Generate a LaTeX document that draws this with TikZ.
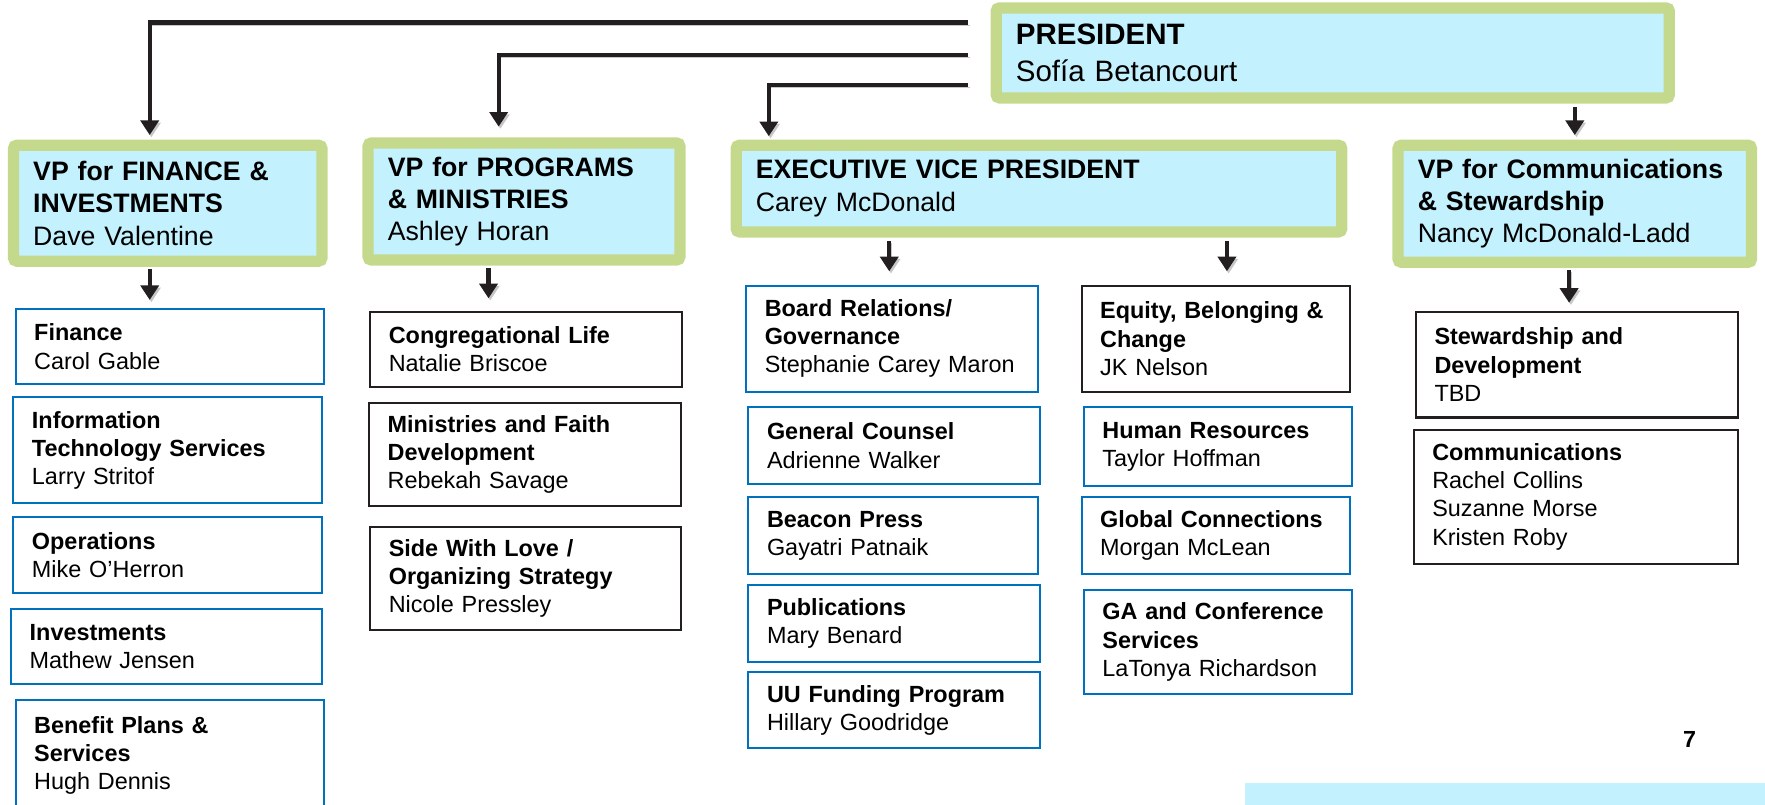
\documentclass[tikz,border=0pt]{standalone}
\usepackage{fontspec}
\setmainfont{Liberation Sans}
\usetikzlibrary{arrows.meta}
\definecolor{leafgreen}{HTML}{C5D98D}
\definecolor{paleblue}{HTML}{C3F1FD}
\definecolor{lineblue}{HTML}{0070C0}
\definecolor{inkblack}{HTML}{231F20}

\begin{document}
\begin{tikzpicture}[x=1pt,y=-1pt,
  leadbox/.style={draw=leafgreen, fill=paleblue, line width=10pt, rounded corners=3pt, anchor=north west, align=left, inner xsep=17.5pt, inner ysep=0pt, font=\fontsize{23.7}{28.7}\selectfont},
  deptbox/.style={draw=lineblue, line width=1.8pt, anchor=north west, align=left, inner xsep=16.5pt, inner ysep=0pt, font=\fontsize{20.8}{25}\selectfont},
  deptboxk/.style={deptbox, draw=inkblack},
  conn/.style={draw=inkblack, line width=3.8pt, -{Triangle[width=16pt,length=13pt]},
    preaction={draw=black!22, transform canvas={shift={(1.5pt,-2pt)}}}}]
\useasboundingbox (0,0) rectangle (1568,715);
\clip (0,0) rectangle (1568,715);
% Draw president and vice presidents
\node[leadbox, text width=563pt, minimum height=80pt, font=\fontsize{26.2}{33}\selectfont] (pres) at (880,2) {\textbf{PRESIDENT}\\Sofía Betancourt};
\node[leadbox, text width=239pt, minimum height=103pt] (vpfin) at (7,124) {\textbf{VP for FINANCE \&}\\\textbf{INVESTMENTS}\\Dave Valentine};
\node[leadbox, text width=242pt, minimum height=104pt] (vpprog) at (322,122) {\textbf{VP for PROGRAMS}\\\textbf{\& MINISTRIES}\\Ashley Horan};
\node[leadbox, text width=503pt, minimum height=77pt] (evp) at (649,124) {\textbf{EXECUTIVE VICE PRESIDENT}\\Carey McDonald};
\node[leadbox, text width=279pt, minimum height=104pt] (vpcomm) at (1237,124) {\textbf{VP~for~Communications}\\\textbf{\& Stewardship}\\Nancy McDonald-Ladd};
% Draw finance offices
\node[deptbox, text width=241pt, minimum height=66pt] (fin) at (13,274) {\textbf{Finance}\\Carol Gable};
\node[deptbox, text width=241pt, minimum height=94pt] (its) at (11,352) {\textbf{Information}\\\textbf{Technology Services}\\Larry Stritof};
\node[deptbox, text width=241pt, minimum height=68pt] (ops) at (11,458) {\textbf{Operations}\\Mike O’Herron};
\node[deptbox, text width=243pt, minimum height=67pt] (inv) at (9,540) {\textbf{Investments}\\Mathew Jensen};
\node[deptbox, text width=241pt, minimum height=98pt] (ben) at (13,621) {\textbf{Benefit Plans \&}\\\textbf{Services}\\Hugh Dennis};
% Draw program offices
\node[deptboxk, text width=244pt, minimum height=67pt] (cong) at (328,276) {\textbf{Congregational Life}\\Natalie Briscoe};
\node[deptboxk, text width=244pt, minimum height=92pt] (mfd) at (327,357) {\textbf{Ministries and Faith}\\\textbf{Development}\\Rebekah Savage};
\node[deptboxk, text width=243pt, minimum height=92pt] (swl) at (328,467) {\textbf{Side With Love /}\\\textbf{Organizing Strategy}\\Nicole Pressley};
% Draw executive offices, first column
\node[deptbox, text width=226pt, minimum height=94pt] (board) at (662,253) {\textbf{Board Relations/}\\\textbf{Governance}\\Stephanie~Carey~Maron};
\node[deptbox, text width=226pt, minimum height=68pt] (gc) at (664,361) {\textbf{General Counsel}\\Adrienne Walker};
\node[deptbox, text width=224pt, minimum height=68pt] (beacon) at (664,441) {\textbf{Beacon Press}\\Gayatri Patnaik};
\node[deptbox, text width=226pt, minimum height=68pt] (pubs) at (664,519) {\textbf{Publications}\\Mary Benard};
\node[deptbox, text width=226pt, minimum height=68pt] (uuf) at (664,596) {\textbf{UU Funding Program}\\Hillary Goodridge};
% Draw executive offices, second column
\node[deptboxk, text width=205pt, minimum height=94pt] (equity) at (960,253) {\textbf{Equity,~Belonging~\&}\\\textbf{Change}\\JK Nelson};
\node[deptbox, text width=205pt, minimum height=70pt] (hr) at (962,361) {\textbf{Human Resources}\\Taylor Hoffman};
\node[deptbox, text width=205pt, minimum height=68pt] (global) at (960,441) {\textbf{Global~Connections}\\Morgan McLean};
\node[deptbox, text width=205pt, minimum height=93pt] (ga) at (962,523) {\textbf{GA and Conference}\\\textbf{Services}\\LaTonya Richardson};
% Draw communication offices
\node[deptboxk, text width=253pt, minimum height=94pt] (stew) at (1257,276) {\textbf{Stewardship and}\\\textbf{Development}\\TBD};
\node[deptboxk, text width=255pt, minimum height=119pt] (comms) at (1255,381) {\textbf{Communications}\\Rachel Collins\\Suzanne Morse\\Kristen Roby};
% Draw lines from the president
\coordinate (p1) at (860,20);
\coordinate (p2) at (860,49);
\coordinate (p3) at (860,75.5);
\draw[conn, shorten >=4pt] (p1) -| ([xshift=126pt]vpfin.north west);
\draw[conn, shorten >=9.5pt] (p2) -| ([xshift=121pt]vpprog.north west);
\draw[conn, shorten >=3pt] (p3) -| ([xshift=34pt]evp.north west);
\draw[conn, shorten <=3pt, shorten >=4pt] ([xshift=162pt]vpcomm.north west |- pres.south) -- ([xshift=162pt]vpcomm.north west);
% Draw arrows down to the offices
\draw[conn, shorten <=2pt, shorten >=7.5pt] ([xshift=126pt]vpfin.south west) -- ([xshift=126pt]vpfin.south west |- fin.north);
\draw[conn, shorten <=2pt, shorten >=11pt] ([xshift=112pt]vpprog.south west) -- ([xshift=112pt]vpprog.south west |- cong.north);
\draw[conn, shorten <=3pt, shorten >=12pt] ([xshift=141pt]evp.south west) -- ([xshift=141pt]evp.south west |- board.north);
\draw[conn, shorten <=3pt, shorten >=12pt] ([xshift=441pt]evp.south west) -- ([xshift=441pt]evp.south west |- equity.north);
\draw[conn, shorten <=2pt, shorten >=7pt] ([xshift=157pt]vpcomm.south west) -- ([xshift=157pt]vpcomm.south west |- stew.north);
% Page number and footer band
\node[font=\bfseries\fontsize{20.7}{24}\selectfont] (pagenum) at (1501,657) {7};
\fill[paleblue] (1106,696) rectangle (1568,715);
\end{tikzpicture}
\end{document}
